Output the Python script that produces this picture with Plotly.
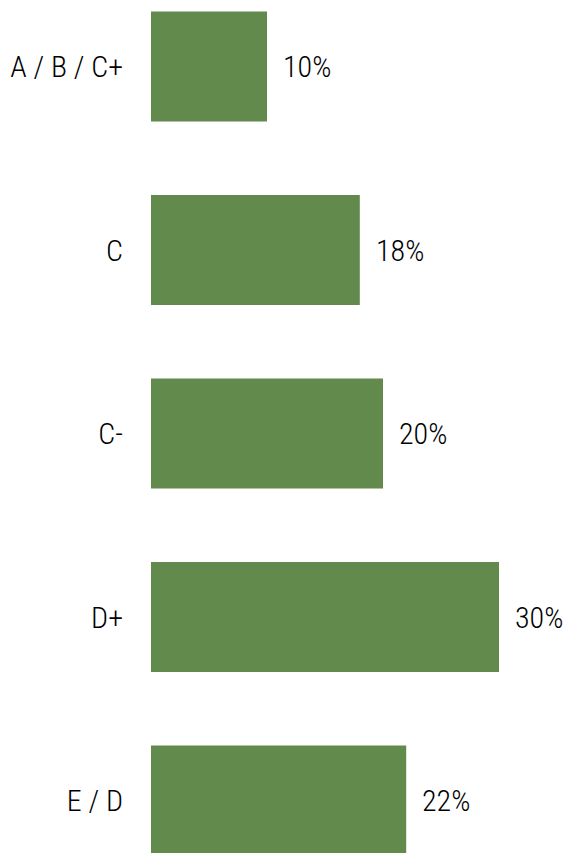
import plotly.graph_objects as go

categories = ["A / B / C+", "C", "C-", "D+", "E / D"]
values = [10, 18, 20, 30, 22]
labels = ["10%", "18%", "20%", "30%", "22%"]

FONT = "Roboto Condensed, Liberation Sans Narrow, sans-serif"
BAR = "#628a4c"

fig = go.Figure(go.Bar(
    x=values, y=list(range(len(categories))), orientation="h",
    marker=dict(color=BAR, line=dict(width=0)), width=0.6,
    hoverinfo="skip",
))

for i, (v, t) in enumerate(zip(values, labels)):
    fig.add_annotation(x=v, y=i, text=t, showarrow=False, xanchor="left",
                       xshift=14, font=dict(family=FONT, size=30, weight=300,
                                            color="#000000"))

fig.update_layout(
    width=571, height=853,
    margin=dict(l=143, r=0, t=0, b=0),
    paper_bgcolor="white", plot_bgcolor="rgba(0,0,0,0)",
    showlegend=False,
    xaxis=dict(range=[0, 428 / 11.6], visible=False, automargin=False),
    yaxis=dict(range=[4.3297, -0.3188], tickmode="array",
               tickvals=list(range(len(categories))), ticktext=categories,
               showgrid=False, zeroline=False, showline=False, ticks="",
               ticklabelstandoff=27, automargin=False,
               tickfont=dict(family=FONT, size=30, weight=300, color="#000000")),
)

fig.write_html("out.html")
